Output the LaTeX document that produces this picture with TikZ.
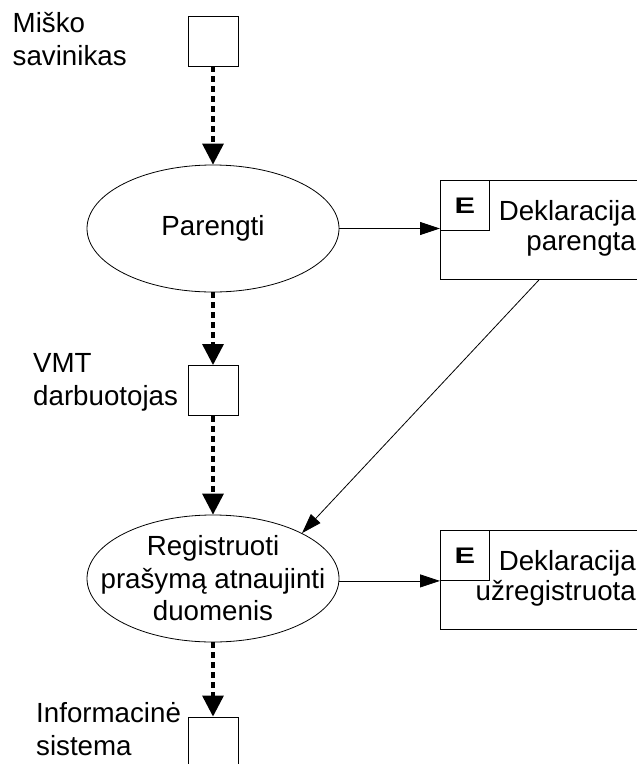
\documentclass[tikz,border=0pt]{standalone}
\usepackage{fontspec}
\usepackage{graphicx}
\setmainfont{Liberation Sans}
\usetikzlibrary{arrows.meta,shapes.geometric}

% bold event letter, sized by its box
\newcommand{\tagletter}[1]{\resizebox{20.5pt}{15.5pt}{\bfseries #1}}

\begin{document}
\begin{tikzpicture}[x=1pt,y=-1pt,
  txt/.style={font=\fontsize{27.7}{33}\selectfont, inner sep=0pt},
  actor/.style={draw, line width=0.9pt, minimum width=50pt, minimum height=50pt, inner sep=0pt},
  process/.style={draw, ellipse, line width=0.8pt, minimum width=252pt, minimum height=127pt, inner sep=0pt},
  event/.style={draw, line width=0.9pt, minimum width=220pt, minimum height=99pt, inner sep=0pt, anchor=north west},
  eventtag/.style={draw, line width=0.9pt, minimum width=49pt, minimum height=50pt, inner sep=0pt, anchor=north west},
  flow/.style={line width=3.3pt, dash pattern=on 6pt off 4pt, -{Triangle[length=21pt,width=21pt]}},
  link/.style={line width=0.8pt, -{Triangle[length=20pt,width=13pt]}}
]
\clip (0,0) rectangle (637,764);
\fill[white] (0,0) rectangle (637,764);

% actors (labels anchored on the baseline of their last line)
\node[actor] (s1) at (213,41) {};
\node[txt, anchor=base west, align=left] (s1l) at (12.5,65) {Miško\\savinikas};

\node[actor] (s2) at (213,390.5) {};
\node[txt, anchor=base west, align=left] (s2l) at (33,405) {VMT\\darbuotojas};

\node[actor] (s3) at (213,742) {};
\node[txt, anchor=base west, align=left] (s3l) at (36,755) {Informacinė\\sistema};

% processes
\node[process] (p) at (213,228.5) {};
\node[txt] (pt) at (p.center) {Parengti};

\node[process] (r) at (213,578.5) {};
\node[txt, align=center, font=\fontsize{27.7}{32.5}\selectfont] (rt) at (r.center)
  {Registruoti\\prašymą atnaujinti\\duomenis};

% events
\node[event] (e1) at (440,180) {};
\node[eventtag] (e1tag) at (440,180) {\tagletter{E}};
\node[txt, anchor=base east, align=right, font=\fontsize{27.7}{30}\selectfont] (e1t) at (636,250.7)
  {Deklaracija\\parengta};

\node[event] (e2) at (440,530) {};
\node[eventtag] (e2tag) at (440,530) {\tagletter{E}};
\node[txt, anchor=base east, align=right, font=\fontsize{27.7}{30}\selectfont] (e2t) at (636,600.7)
  {Deklaracija\\užregistruota};

% control flow
\draw[flow] (s1) -- (p);
\draw[flow] (p) -- (s2);
\draw[flow] (s2) -- (r);
\draw[flow] (r) -- (s3);

% event links
\draw[link] (p.east) -- (p.east -| e1tag.south west);
\draw[link] ([xshift=99pt]e1.south west) -- (r.27);
\draw[link] (r.east |- e2tag.south west) -- (e2tag.south west);
\end{tikzpicture}
\end{document}
